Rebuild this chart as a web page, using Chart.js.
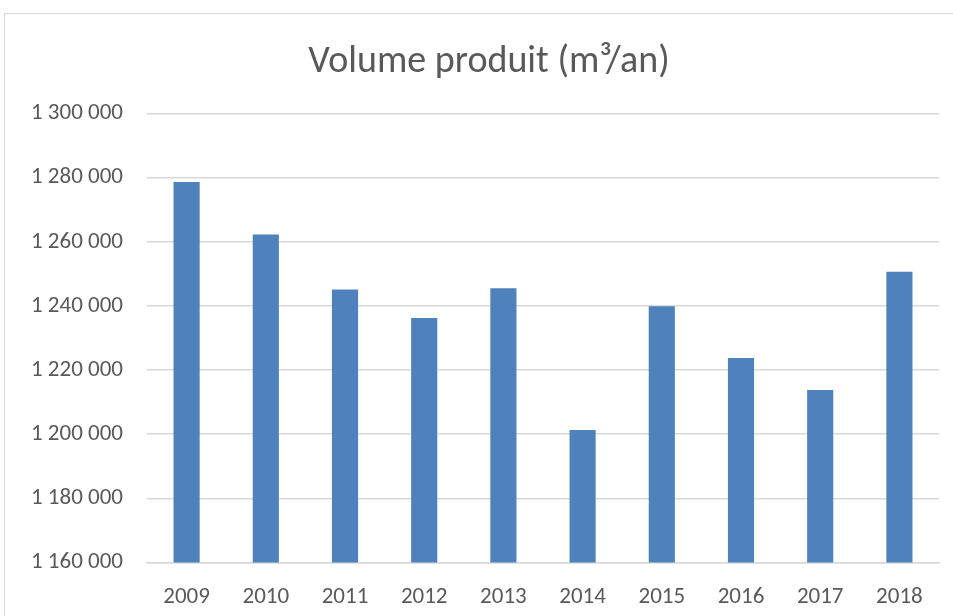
<!DOCTYPE html>
<html>
<head>
<meta charset="utf-8">
<script src="https://cdn.jsdelivr.net/npm/chart.js@4"></script>
<style>
  html, body { margin: 0; padding: 0; background: #fff; overflow: hidden; }
  #frame { position: absolute; left: 4px; top: 13px; width: 968px; height: 620px; border: 1px solid #d9d9d9; }
  #chart { position: absolute; left: 0; top: 0; }
</style>
</head>
<body>
<div id="frame"><canvas id="chart" width="968" height="618"></canvas></div>
<script>
// Volume produit par année
const years = ['2009', '2010', '2011', '2012', '2013', '2014', '2015', '2016', '2017', '2018'];
const volumes = [1278650, 1262300, 1245100, 1236250, 1245500, 1201300, 1239900, 1223800, 1213800, 1250700];
const yMin = 1160000;
const yMax = 1300000;
const yStep = 20000;

const font = "Carlito, 'Liberation Sans Narrow', 'Open Sans', sans-serif";
const grey = '#595959';

function fmt(v) {
    // 1 300 000 style
    return String(v).replace(/\B(?=(\d{3})+(?!\d))/g, ' ');
}

// the frame of the original is wider than the window, so its title sits a bit right of centre
const shiftTitle = {
    id: 'shiftTitle',
    afterLayout(chart) {
        const t = chart.titleBlock;
        if (t) { t.left += 16; t.right += 16; }
    }
};

const ctx = document.getElementById('chart').getContext('2d');
new Chart(ctx, {
    type: 'bar',
    data: {
        labels: years,
        datasets: [{
            data: volumes,
            backgroundColor: '#4f81bd',
            barPercentage: 0.33,
            categoryPercentage: 1
        }]
    },
    options: {
        responsive: false,
        animation: false,
        devicePixelRatio: 1,
        layout: { padding: { left: 2, right: 34, top: 0, bottom: 0 } },
        plugins: {
            legend: { display: false },
            tooltip: { enabled: false },
            title: {
                display: true,
                text: 'Volume produit (m³/an)',
                color: grey,
                font: { family: font, size: 38, weight: 'normal' },
                padding: { top: 26, bottom: 28 }
            }
        },
        scales: {
            y: {
                min: yMin,
                max: yMax,
                ticks: {
                    stepSize: yStep,
                    color: grey,
                    padding: 24,
                    font: { family: font, size: 23 },
                    callback: v => fmt(v)
                },
                grid: { color: '#d9d9d9', lineWidth: 1.5, drawTicks: false },
                border: { display: false }
            },
            x: {
                ticks: {
                    color: grey,
                    padding: 21,
                    font: { family: font, size: 23 }
                },
                grid: { display: false, drawTicks: false },
                border: { display: true, color: '#d9d9d9', width: 1.5 }
            }
        }
    },
    plugins: [shiftTitle]
});
</script>
</body>
</html>
